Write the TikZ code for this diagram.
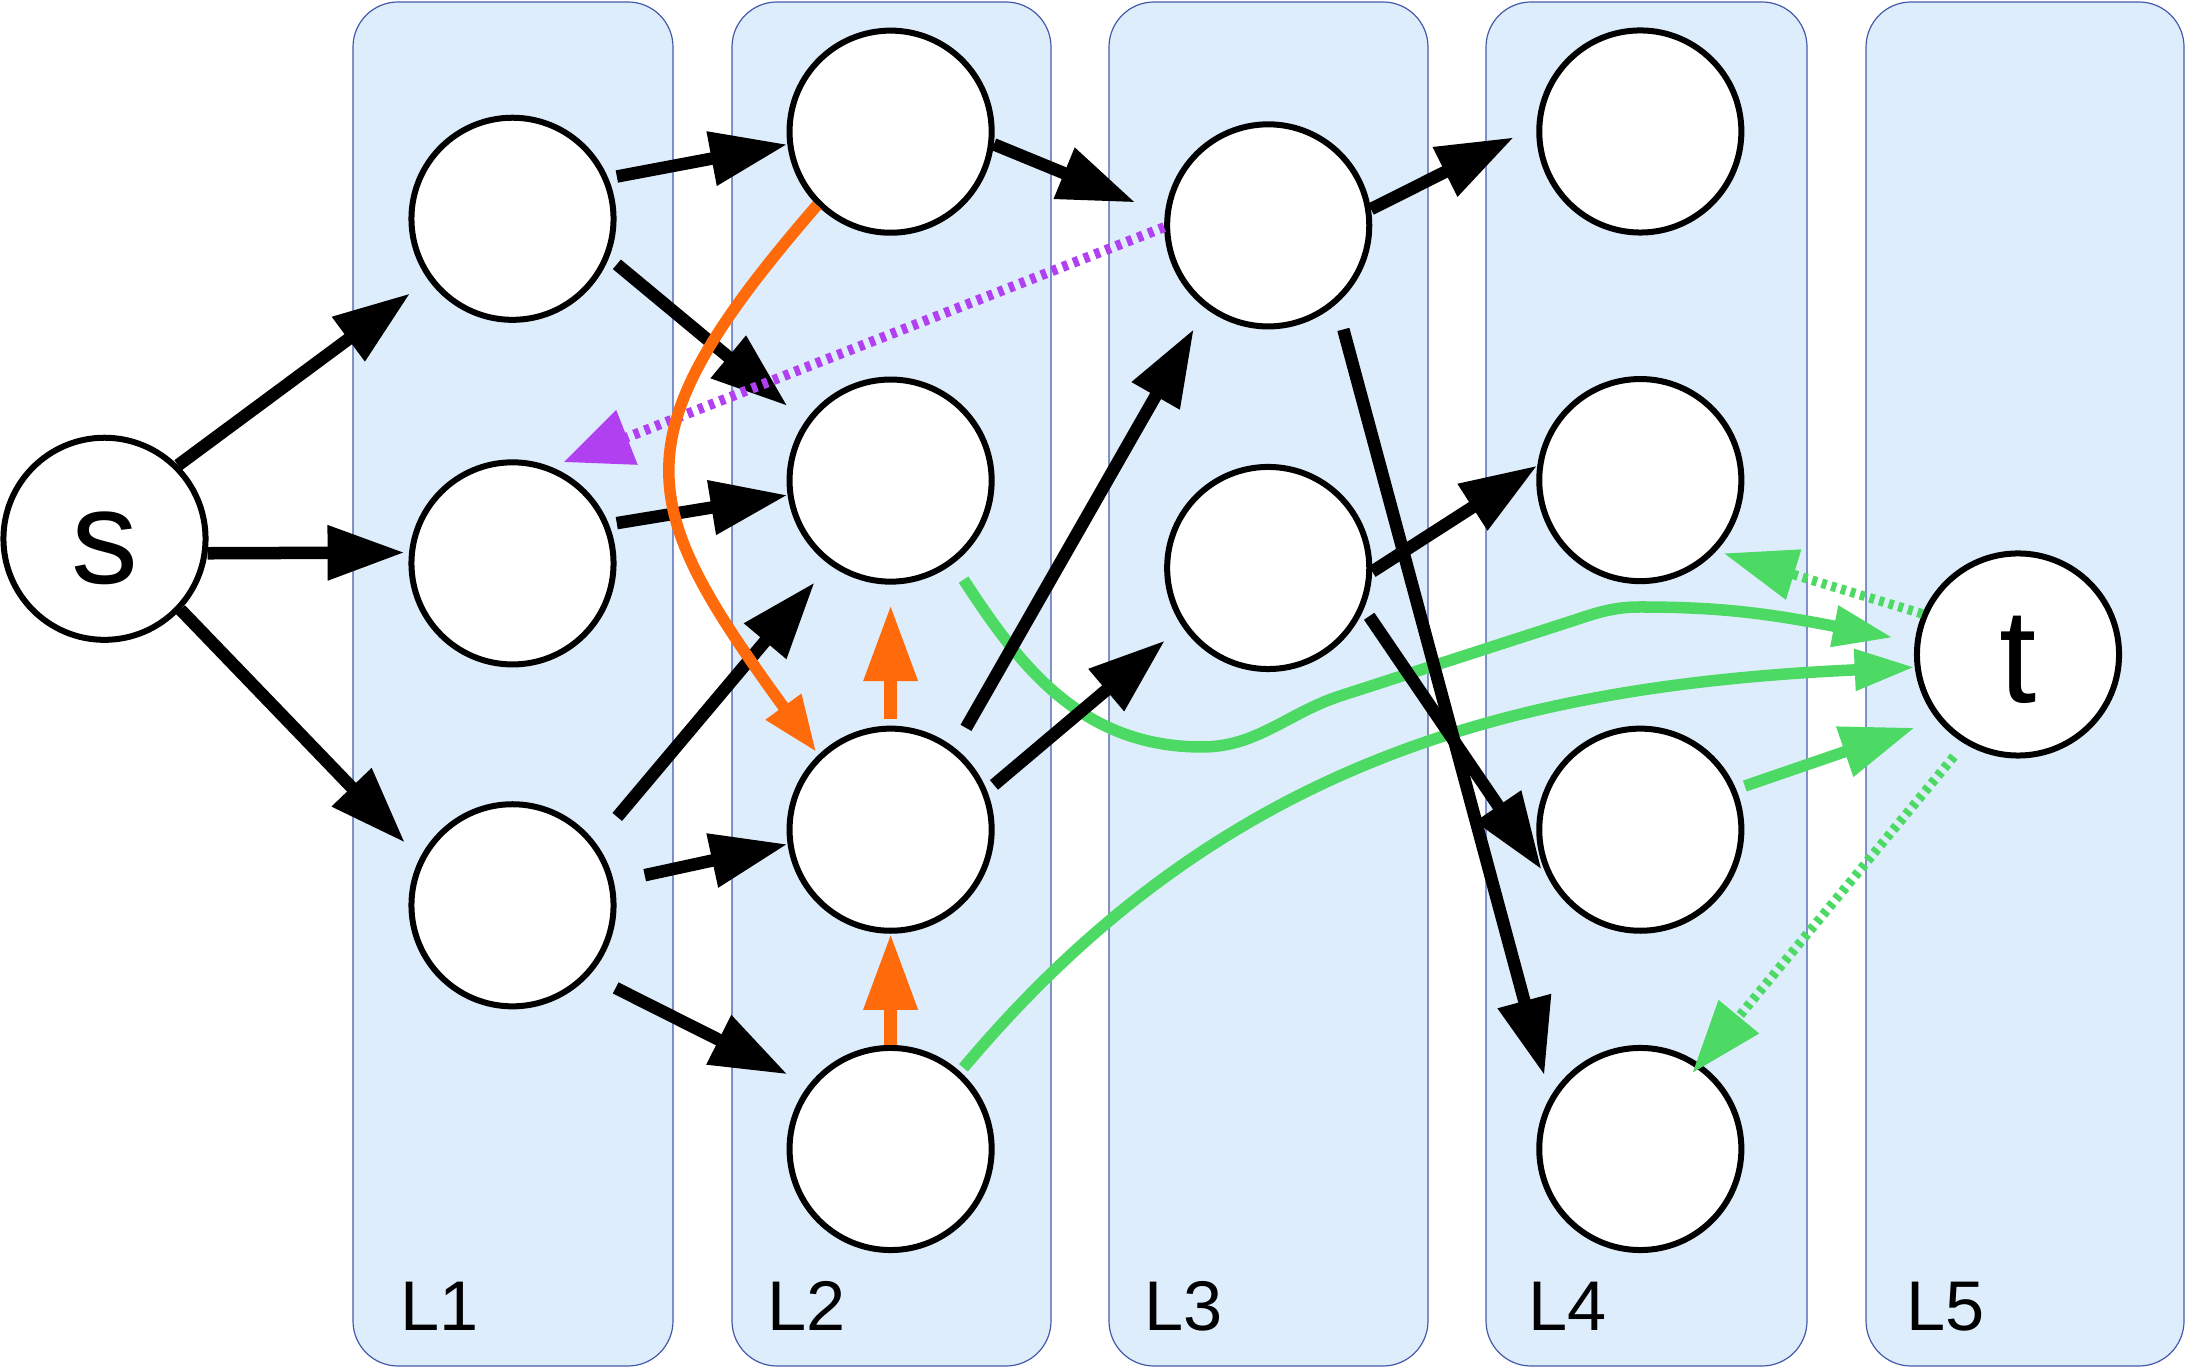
\documentclass[tikz,border=0pt]{standalone}
\usepackage{fontspec}
\setmainfont{Liberation Sans}
\usetikzlibrary{arrows.meta}
\definecolor{lanefill}{RGB}{222,237,251}
\definecolor{lanedraw}{RGB}{70,90,170}
\definecolor{orng}{RGB}{255,106,10}
\definecolor{purp}{RGB}{176,64,240}
\definecolor{grn}{RGB}{76,217,100}
\begin{document}
\begin{tikzpicture}[x=0.01cm,y=-0.01cm,
  lane/.style={fill=lanefill,draw=lanedraw,line width=0.012cm,rounded corners=0.45cm},
  vert/.style={circle,draw=black,fill=white,line width=0.06cm,minimum size=2.02cm,inner sep=0pt},
  lanelabel/.style={anchor=base west,inner sep=0pt,font=\fontsize{20}{24}\selectfont},
  bigletter/.style={font=\fontsize{38}{44}\selectfont},
  blk/.style={line width=0.125cm,-{Triangle[length=0.77cm,width=0.52cm]}},
  oedge/.style={orng,line width=0.13cm,-{Triangle[length=0.76cm,width=0.51cm]}},
  ocurve/.style={orng,line width=0.115cm,-{Triangle[length=0.56cm,width=0.41cm]}},
  pedge/.style={purp,line width=0.1cm,dash pattern=on 0.055cm off 0.06cm,-{Triangle[length=0.68cm,width=0.56cm]}},
  gcurve/.style={grn,line width=0.115cm,-{Triangle[length=0.6cm,width=0.39cm]}},
  gedge/.style={grn,line width=0.115cm,-{Triangle[length=0.74cm,width=0.5cm]}},
  gdot/.style={grn,line width=0.095cm,dash pattern=on 0.05cm off 0.05cm,-{Triangle[length=0.73cm,width=0.5cm]}},
]
\useasboundingbox (0,0) rectangle (2185,1368);

% lanes
\path[lane] (353,2) rectangle (673,1366);
\path[lane] (732,2) rectangle (1051,1366);
\path[lane] (1109,2) rectangle (1428,1366);
\path[lane] (1486,2) rectangle (1807,1366);
\path[lane] (1866,2) rectangle (2184,1366);

\node[lanelabel] (l1) at (400,1330) {L1};
\node[lanelabel] (l2) at (767,1330) {L2};
\node[lanelabel] (l3) at (1144,1330) {L3};
\node[lanelabel] (l4) at (1528,1330) {L4};
\node[lanelabel] (l5) at (1906,1330) {L5};

% vertices
\node[vert,bigletter,text height=0.9cm,text depth=0pt] (s) at (104.5,538.8) {s};
\node[vert] (a1) at (512.5,218.8) {};
\node[vert] (b1) at (512.5,563.4) {};
\node[vert] (c1) at (512.5,905.3) {};
\node[vert] (a2) at (890.6,131.7) {};
\node[vert] (b2) at (890.6,480.6) {};
\node[vert] (c2) at (890.6,829.7) {};
\node[vert] (d2) at (890.6,1149) {};
\node[vert] (a3) at (1268.2,225.4) {};
\node[vert] (b3) at (1268.2,568) {};
\node[vert] (a4) at (1640.3,131.5) {};
\node[vert] (b4) at (1640.3,480.1) {};
\node[vert] (c4) at (1640.3,829.7) {};
\node[vert] (d4) at (1640.3,1149) {};
\node[vert,bigletter,text height=0.95cm,text depth=0pt] (t) at (2018,654.5) {t};

% green paths
\coordinate (g1a) at (1202,747);
\coordinate (g1b) at (1340,696);
\coordinate (g1c) at (1575,620);
\coordinate (g1d) at (1640,607);
\draw[gcurve,shorten <=0.19cm,shorten >=0.22cm] (b2.-53.9)
  .. controls +(66,101.5) and +(-121,0) .. (g1a)
  .. controls +(55,0) and +(-52,17) .. (g1b)
  -- (g1c)
  .. controls +(24,-8) and +(-25,0) .. (g1d)
  .. controls +(80,0) and +(-147,-28.5) .. (t.173.8);
\draw[gcurve,shorten <=0.05cm] (d2.48.2) .. controls +(259.5,-309.3) and +(-403.3,18.3) .. (t.187.8);
\draw[gedge,shorten <=0.092cm,shorten >=0.237cm] (c4.23.2) -- (t.219.2);
\draw[gdot,shorten >=0.077cm] (t.157.6) -- (b4.-43.6);
\draw[gdot,shorten <=0.166cm,shorten >=-0.12cm] (t.239.3) -- (d4.55.9);

% black edges
\draw[blk,shorten >=0.225cm] (s.45.7) -- (a1.216.5);
\draw[blk,shorten >=0.044cm] (s.-8.1) -- (b1.174.5);
\draw[blk,shorten >=0.213cm] (s.-43.9) -- (c1.153.3);
\draw[blk,shorten <=0.087cm] (a1.23.75) -- (a2.187.35);
\draw[blk,shorten <=0.1025cm,shorten >=0.232cm] (a1.-22.8) -- (b2.145.2);
\draw[blk,shorten <=0.0785cm] (b1.22.6) -- (b2.188.2);
\draw[blk,shorten <=0.336cm,shorten >=0.229cm] (c1.37.9) -- (b2.234.4);
\draw[blk,shorten <=0.315cm] (c1.13.6) -- (c2.188.2);
\draw[blk,shorten <=0.289cm,shorten >=0.235cm] (c1.-42.7) -- (d2.142.3);
\draw[blk,shorten >=0.317cm] (a2.-7.3) -- (a3.174.3);
\draw[blk,shorten <=0.228cm,shorten >=0.236cm] (c2.52.2) -- (a3.233.6);
\draw[blk,shorten <=0.09cm,shorten >=0.221cm] (c2.22) -- (b3.214.8);
\draw[blk,shorten >=0.252cm] (a3.9.85) -- (a4.177.5);
\draw[blk,shorten <=0.264cm,shorten >=0.223cm] (a3.-49.1) -- (d4.150.2);
\draw[blk] (b3.-2.9) -- (b4.172.2);
\draw[blk,shorten <=0.092cm,shorten >=0.203cm] (b3.-23.3) -- (c4.213.9);

% purple
\draw[pedge,shorten >=0.13cm] (a3.181.3) -- (b1.68.4);

% orange
\draw[ocurve,shorten >=0.035cm] (a2.225.7) .. controls +(-202.3,233.7) and +(-183.5,-252.8) .. (c2.134.5);
\draw[oedge,shorten <=0.07cm,shorten >=0.204cm] (c2.north) -- (b2.south);
\draw[oedge] (d2.north) -- (c2.south);
\end{tikzpicture}
\end{document}
